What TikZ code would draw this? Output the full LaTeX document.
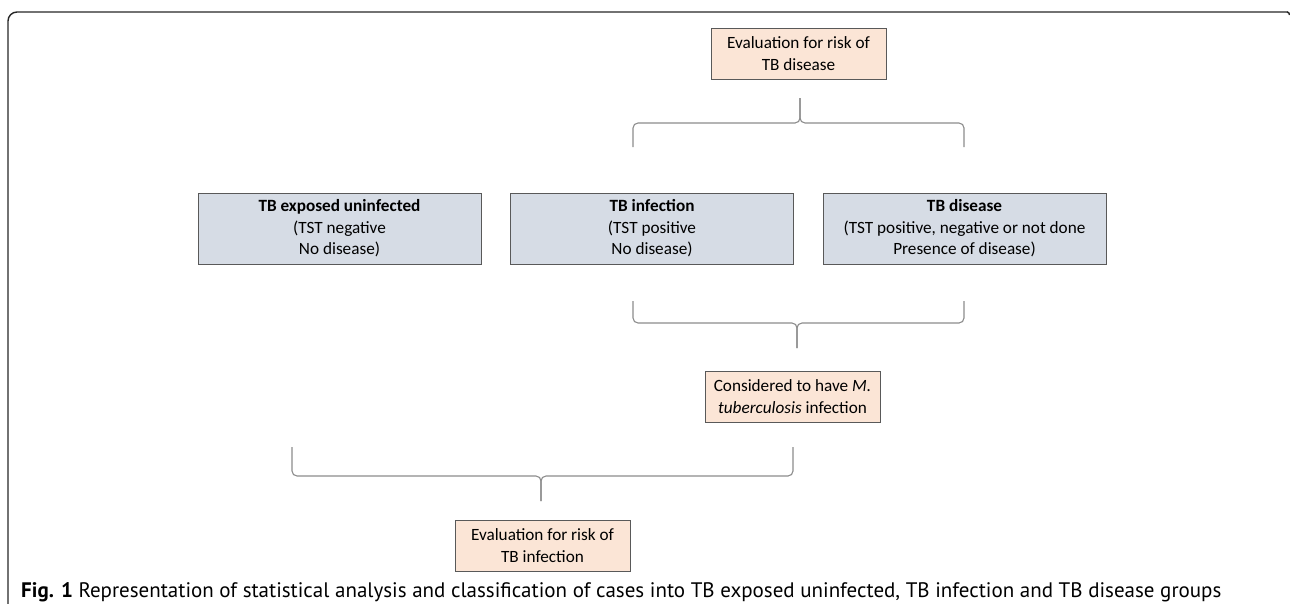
\documentclass[tikz,border=0pt]{standalone}
\usepackage{fontspec}
\setmainfont{Carlito}
\newfontfamily\capfont{PT Sans}
\definecolor{peach}{HTML}{FBE5D6}
\definecolor{bluegray}{HTML}{D6DCE5}
\definecolor{boxline}{HTML}{595959}
\definecolor{bracecol}{HTML}{8C8C8C}
\begin{document}
\begin{tikzpicture}[x=1pt,y=-1pt,
  basebox/.style={draw=boxline,line width=1pt,inner sep=0pt,align=center,
    font=\fontsize{17.2}{21.5}\selectfont,text=black},
  peachbox/.style={basebox,fill=peach,minimum width=175pt,minimum height=51pt},
  greybox/.style={basebox,fill=bluegray,minimum width=283pt,minimum height=71pt},
  bracepath/.style={draw=bracecol,line width=1.1pt,rounded corners=5pt},
  frame/.style={draw=black!85,line width=1.4pt}]
\useasboundingbox (0,0) rectangle (1290,603);
% frame
\draw[frame,rounded corners=9pt] (8,604) -- (8,12) -- (1288,12);
\draw[frame] (1287,12) to[out=0,in=90] (1289.5,15);
% top box
\node[peachbox] (evaldis) at (798.5,53.5) {Evaluation for risk of\\TB disease};
% top brace
\coordinate (tb1) at (633,147);
\coordinate (tb2) at (964,147);
\coordinate (tbt) at (800,98);
\draw[bracepath] (tb1) -- (633,123) -- (800,123) -- (tbt);
\draw[bracepath] (tb2) -- (964,123) -- (800,123) -- (tbt);
% row boxes
\node[greybox] (unexp) at (339.5,228.5) {\textbf{TB exposed uninfected}\\(TST negative\\No disease)};
\node[greybox] (infect) at (652,228.5) {\textbf{TB infection}\\(TST positive\\No disease)};
\node[greybox] (disease) at (964.5,228.5) {\textbf{TB disease}\\(TST positive, negative or not done\\Presence of disease)};
% middle brace
\coordinate (mb1) at (633,301);
\coordinate (mb2) at (964,301);
\coordinate (mbt) at (797,348);
\draw[bracepath] (mb1) -- (633,323) -- (797,323) -- (mbt);
\draw[bracepath] (mb2) -- (964,323) -- (797,323) -- (mbt);
% middle box
\node[peachbox] (mtb) at (792.5,396.5) {Considered to have \textit{M.}\\\textit{tuberculosis} infection};
% bottom brace
\coordinate (bb1) at (292,447);
\coordinate (bb2) at (793,447);
\coordinate (bbt) at (541,501);
\draw[bracepath] (bb1) -- (292,476) -- (541,476) -- (bbt);
\draw[bracepath] (bb2) -- (793,476) -- (541,476) -- (bbt);
% bottom box
\node[peachbox] (evalinf) at (542.5,545.5) {Evaluation for risk of\\TB infection};
% caption
\node[anchor=base west,inner sep=0pt,font=\capfont\fontsize{21}{25}\selectfont] (cap) at (21,597)
  {\textbf{Fig. 1} Representation of statistical analysis and classification of cases into TB exposed uninfected, TB infection and TB disease groups};
\end{tikzpicture}
\end{document}
